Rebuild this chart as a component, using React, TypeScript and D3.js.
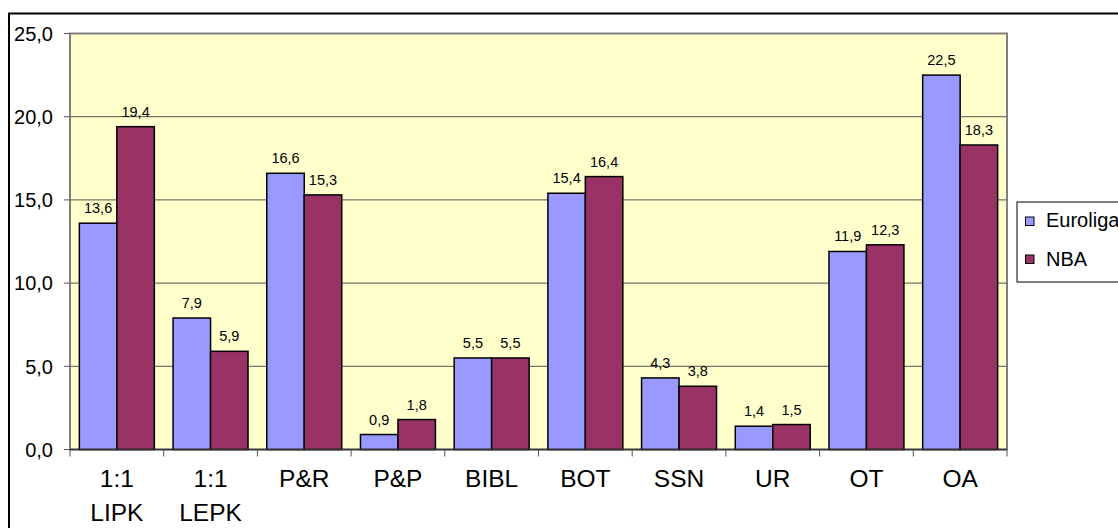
import React from "react";
import * as d3 from "d3";

const categories = ["1:1 LIPK", "1:1 LEPK", "P&R", "P&P", "BIBL", "BOT", "SSN", "UR", "OT", "OA"];
const euroliga = [13.6, 7.9, 16.6, 0.9, 5.5, 15.4, 4.3, 1.4, 11.9, 22.5];
const nba = [19.4, 5.9, 15.3, 1.8, 5.5, 16.4, 3.8, 1.5, 12.3, 18.3];
const yTicks = [0, 5, 10, 15, 20, 25];
const seriesNames = ["Euroliga", "NBA"];
const seriesColors = ["#9999FF", "#993366"];

const W = 1118;
const H = 528;
const plot = { left: 70, right: 1007, top: 33.5, bottom: 449.5 };
const FONT = "Arial, 'Liberation Sans', sans-serif";

export default function App() {
  const x = d3.scaleBand<string>().domain(categories).range([plot.left, plot.right]).padding(0);
  const y = d3.scaleLinear().domain([0, 25]).range([plot.bottom, plot.top]);
  const bw = x.bandwidth();
  const barW = bw / 2.5;
  const off = bw * 0.1;
  const fmt = (v: number) => d3.format(".1f")(v).replace(".", ",");
  const series = [euroliga, nba];

  return (
    <svg width={W} height={H} style={{ position: "absolute", left: 0, top: 0, background: "#fff" }}>
      {/* outer chart border */}
      <rect x={9} y={13.5} width={1300} height={700} fill="#fff" stroke="#000" strokeWidth={2} />
      {/* plot area */}
      <rect x={plot.left} y={plot.top} width={plot.right - plot.left} height={plot.bottom - plot.top} fill="#FFFFCC" stroke="#808080" strokeWidth={2} />
      {/* gridlines */}
      {yTicks.filter((t) => t > 0 && t < 25).map((t) => (
        <line key={"g" + t} x1={plot.left} x2={plot.right} y1={y(t)} y2={y(t)} stroke="#555" strokeWidth={1} />
      ))}
      {/* bars */}
      {series.map((vals, si) =>
        vals.map((v, i) => {
          const bx = (x(categories[i]) as number) + off + si * barW;
          return (
            <rect key={`b${si}-${i}`} x={bx} y={y(v)} width={barW} height={y(0) - y(v)} fill={seriesColors[si]} stroke="#000" strokeWidth={1.5} />
          );
        })
      )}
      {/* value labels */}
      {series.map((vals, si) =>
        vals.map((v, i) => {
          const bx = (x(categories[i]) as number) + off + si * barW + barW / 2;
          return (
            <text key={`l${si}-${i}`} x={bx} y={y(v) - 10} textAnchor="middle" fontFamily={FONT} fontSize={14.5} fill="#000">
              {fmt(v)}
            </text>
          );
        })
      )}
      {/* y axis */}
      <line x1={plot.left} x2={plot.left} y1={plot.top} y2={plot.bottom} stroke="#808080" strokeWidth={1.5} />
      {yTicks.map((t) => (
        <g key={"yt" + t}>
          <line x1={plot.left - 6} x2={plot.left} y1={y(t)} y2={y(t)} stroke="#555" strokeWidth={1} />
          <text x={53} y={y(t)} dy="0.36em" textAnchor="end" fontFamily={FONT} fontSize={20} fill="#000">
            {fmt(t)}
          </text>
        </g>
      ))}
      {/* x axis */}
      <line x1={plot.left} x2={plot.right} y1={plot.bottom} y2={plot.bottom} stroke="#333" strokeWidth={1.5} />
      {d3.range(categories.length + 1).map((i) => {
        const tx = plot.left + i * bw;
        return <line key={"xt" + i} x1={tx} x2={tx} y1={plot.bottom} y2={plot.bottom + 7} stroke="#555" strokeWidth={1} />;
      })}
      {categories.map((c) => {
        const cx = (x(c) as number) + bw / 2;
        const lines = c.split(" ");
        return (
          <text key={"c" + c} x={cx} y={487} textAnchor="middle" fontFamily={FONT} fontSize={24.5} fill="#000">
            {lines.map((ln, k) => (
              <tspan key={k} x={cx} y={487 + k * 34}>
                {ln}
              </tspan>
            ))}
          </text>
        );
      })}
      {/* legend */}
      <rect x={1017} y={202} width={200} height={80} fill="#fff" stroke="#000" strokeWidth={1} />
      {seriesNames.map((n, i) => (
        <g key={"lg" + n}>
          <rect x={1025.5} y={217 + i * 38} width={8.5} height={8.5} fill={seriesColors[i]} stroke="#000" strokeWidth={1} />
          <text x={1046} y={227 + i * 39} fontFamily={FONT} fontSize={20} fill="#000">
            {n}
          </text>
        </g>
      ))}
    </svg>
  );
}
